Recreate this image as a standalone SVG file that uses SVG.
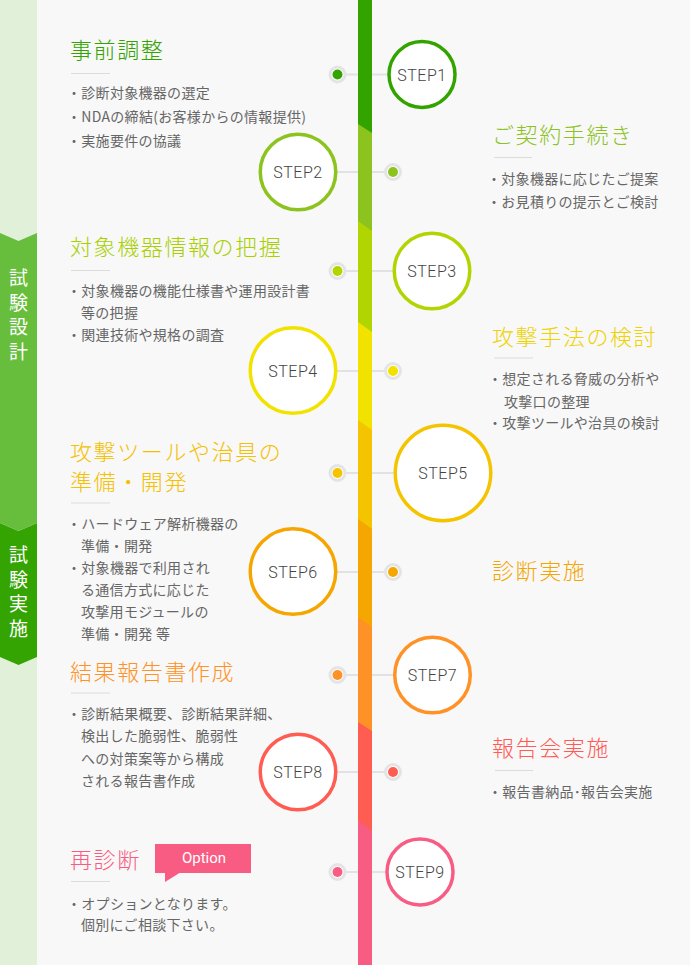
<svg xmlns="http://www.w3.org/2000/svg" width="690" height="965" viewBox="0 0 690 965">
<style>
.title{font-family:"Noto Sans CJK JP","Noto Sans",sans-serif;font-size:22px;font-weight:300;letter-spacing:1.6px}
.body{font-family:"Noto Sans CJK JP","Noto Sans",sans-serif;font-size:14px;fill:#666;letter-spacing:0.3px}
.side{font-family:"Noto Sans CJK JP",sans-serif;font-size:19px;fill:#fff;text-anchor:middle}
.lbl{font-family:Roboto,"Liberation Sans",sans-serif;font-size:16px;font-weight:300;fill:#444;text-anchor:middle;letter-spacing:0.5px}
.ring{fill:#fff;stroke-width:3.5}
.dotring{fill:#fff;stroke:#e4e4e4;stroke-width:3}
.hr{stroke:#dcdcdc;stroke-width:1}
.conn{stroke:#e2e2e2;stroke-width:2}
</style>
<rect x="0" y="0" width="690" height="965" fill="#f8f8f8"/>
<g id="sidebar">
<rect x="0" y="0" width="37" height="965" fill="#e1f0d8"/>
<polygon points="0,523 18.5,531 37,523 37,657 18.5,665 0,657" fill="#34a402"/>
<polygon points="0,233 18.5,241 37,233 37,523 18.5,531 0,523" fill="#66be3c"/>
<text class="side"><tspan x="18.5" y="285">試</tspan><tspan x="18.5" y="309.5">験</tspan><tspan x="18.5" y="334">設</tspan><tspan x="18.5" y="358.5">計</tspan></text>
<text class="side"><tspan x="18.5" y="562">試</tspan><tspan x="18.5" y="586.5">験</tspan><tspan x="18.5" y="611">実</tspan><tspan x="18.5" y="635.5">施</tspan></text>
</g>
<g id="connectors">
<line class="conn" x1="337.5" y1="74.5" x2="422" y2="74.5"/>
<line class="conn" x1="298" y1="172" x2="393" y2="172"/>
<line class="conn" x1="337.5" y1="271" x2="432" y2="271"/>
<line class="conn" x1="293" y1="371" x2="393" y2="371"/>
<line class="conn" x1="337.5" y1="473" x2="443" y2="473"/>
<line class="conn" x1="293" y1="572" x2="393" y2="572"/>
<line class="conn" x1="337.5" y1="675" x2="432.5" y2="675"/>
<line class="conn" x1="298" y1="772" x2="393" y2="772"/>
<line class="conn" x1="337.5" y1="872" x2="420" y2="872"/>
</g>
<g id="timeline">
<rect x="358" y="0" width="14" height="965" fill="#33a300"/>
<polygon points="358,124 372,133 372,965 358,965" fill="#8cc31e"/>
<polygon points="358,221 372,231 372,965 358,965" fill="#b0d500"/>
<polygon points="358,322 372,332 372,965 358,965" fill="#f2e200"/>
<polygon points="358,420 372,430 372,965 358,965" fill="#f5c400"/>
<polygon points="358,519 372,529 372,965 358,965" fill="#f5a600"/>
<polygon points="358,617 372,627 372,965 358,965" fill="#ff9226"/>
<polygon points="358,722 372,731 372,965 358,965" fill="#ff5c52"/>
<polygon points="358,820 372,831 372,965 358,965" fill="#f85c83"/>
</g>
<g id="step1">
<circle class="ring" cx="422" cy="74.5" r="33" stroke="#33a300"/>
<text class="lbl" x="422" y="80.5">STEP1</text>
<circle class="dotring" cx="337.5" cy="74.5" r="7.5"/>
<circle cx="337.5" cy="74.5" r="5" fill="#33a300"/>
<text class="title" x="70" y="58.4" fill="#33a300">事前調整</text>
<line class="hr" x1="71" y1="73.5" x2="110" y2="73.5"/>
<text class="body" x="67" y="98">・診断対象機器の選定</text>
<text class="body" x="67" y="122.3">・NDAの締結(お客様からの情報提供)</text>
<text class="body" x="67" y="146.3">・実施要件の協議</text>
</g>
<g id="step2">
<circle class="ring" cx="298" cy="172" r="37.75" stroke="#8cc31e"/>
<text class="lbl" x="298" y="178">STEP2</text>
<circle class="dotring" cx="393" cy="172" r="7.5"/>
<circle cx="393" cy="172" r="5" fill="#8cc31e"/>
<text class="title" x="492" y="143.4" fill="#8cc31e">ご契約手続き</text>
<line class="hr" x1="494" y1="157.5" x2="532" y2="157.5"/>
<text class="body" x="487" y="183.6">・対象機器に応じたご提案</text>
<text class="body" x="487" y="207">・お見積りの提示とご検討</text>
</g>
<g id="step3">
<circle class="ring" cx="432" cy="271" r="37.75" stroke="#b0d500"/>
<text class="lbl" x="432" y="277">STEP3</text>
<circle class="dotring" cx="337.5" cy="271" r="7.5"/>
<circle cx="337.5" cy="271" r="5" fill="#b0d500"/>
<text class="title" x="70" y="255" fill="#a8cf00">対象機器情報の把握</text>
<line class="hr" x1="71" y1="270.5" x2="110" y2="270.5"/>
<text class="body" x="67" y="296.3">・対象機器の機能仕様書や運用設計書</text>
<text class="body" x="81" y="318">等の把握</text>
<text class="body" x="67" y="339.8">・関連技術や規格の調査</text>
</g>
<g id="step4">
<circle class="ring" cx="293" cy="370.5" r="42.75" stroke="#f2e200"/>
<text class="lbl" x="293" y="376.5">STEP4</text>
<circle class="dotring" cx="393" cy="371" r="7.5"/>
<circle cx="393" cy="371" r="5" fill="#f2e200"/>
<text class="title" x="492" y="344.7" fill="#efd200">攻撃手法の検討</text>
<line class="hr" x1="494" y1="358" x2="533" y2="358"/>
<text class="body" x="488" y="384.1">・想定される脅威の分析や</text>
<text class="body" x="504" y="406.5">攻撃口の整理</text>
<text class="body" x="488" y="428.3">・攻撃ツールや治具の検討</text>
</g>
<g id="step5">
<circle class="ring" cx="443" cy="473" r="47.75" stroke="#f5c400"/>
<text class="lbl" x="443" y="479">STEP5</text>
<circle class="dotring" cx="337.5" cy="473" r="7.5"/>
<circle cx="337.5" cy="473" r="5" fill="#f5c400"/>
<text class="title" x="70" y="459.6" fill="#f5c000">攻撃ツールや治具の</text>
<text class="title" x="70" y="489.6" fill="#f5c000">準備・開発</text>
<line class="hr" x1="71" y1="503" x2="110" y2="503"/>
<text class="body" x="67" y="529.3">・ハードウェア解析機器の</text>
<text class="body" x="81" y="550.8">準備・開発</text>
<text class="body" x="67" y="573.3">・対象機器で利用され</text>
<text class="body" x="81" y="595">る通信方式に応じた</text>
<text class="body" x="81" y="616.8">攻撃用モジュールの</text>
<text class="body" x="81" y="638.6">準備・開発 等</text>
</g>
<g id="step6">
<circle class="ring" cx="293" cy="571.5" r="42.75" stroke="#f5a600"/>
<text class="lbl" x="293" y="577.5">STEP6</text>
<circle class="dotring" cx="393" cy="572" r="7.5"/>
<circle cx="393" cy="572" r="5" fill="#f5a600"/>
<text class="title" x="492" y="579.1" fill="#f5a500">診断実施</text>
</g>
<g id="step7">
<circle class="ring" cx="432.5" cy="675" r="37.75" stroke="#ff9226"/>
<text class="lbl" x="432.5" y="681">STEP7</text>
<circle class="dotring" cx="337.5" cy="675" r="7.5"/>
<circle cx="337.5" cy="675" r="5" fill="#ff9226"/>
<text class="title" x="70" y="679.6" fill="#ff9226">結果報告書作成</text>
<line class="hr" x1="71" y1="693" x2="110" y2="693"/>
<text class="body" x="67" y="719">・診断結果概要、診断結果詳細、</text>
<text class="body" x="81" y="741.3">検出した脆弱性、脆弱性</text>
<text class="body" x="81" y="763.6">への対策案等から構成</text>
<text class="body" x="81" y="785.6">される報告書作成</text>
</g>
<g id="step8">
<circle class="ring" cx="298" cy="772" r="37.75" stroke="#ff5c52"/>
<text class="lbl" x="298" y="778">STEP8</text>
<circle class="dotring" cx="393" cy="772" r="7.5"/>
<circle cx="393" cy="772" r="5" fill="#ff5c52"/>
<text class="title" x="492" y="756.2" fill="#ff5a55">報告会実施</text>
<line class="hr" x1="495" y1="770.5" x2="533" y2="770.5"/>
<text class="body" x="488" y="797">・報告書納品･報告会実施</text>
</g>
<g id="step9">
<circle class="ring" cx="420" cy="872" r="33" stroke="#f85c83"/>
<text class="lbl" x="420" y="878">STEP9</text>
<circle class="dotring" cx="337.5" cy="872" r="7.5"/>
<circle cx="337.5" cy="872" r="5" fill="#f85c83"/>
<text class="title" x="70" y="867.6" fill="#f85c82">再診断</text>
<g id="option-badge">
<rect x="155" y="844" width="96" height="29" fill="#f85c82"/>
<polygon points="165,872 165,882 181,872" fill="#f85c82"/>
<text x="204" y="863" font-family="Roboto,'Liberation Sans',sans-serif" font-size="15" fill="#fff" text-anchor="middle">Option</text>
</g>
<line class="hr" x1="71" y1="881.5" x2="110" y2="881.5"/>
<text class="body" x="67" y="908.6">・オプションとなります。</text>
<text class="body" x="81" y="930">個別にご相談下さい。</text>
</g>
</svg>
